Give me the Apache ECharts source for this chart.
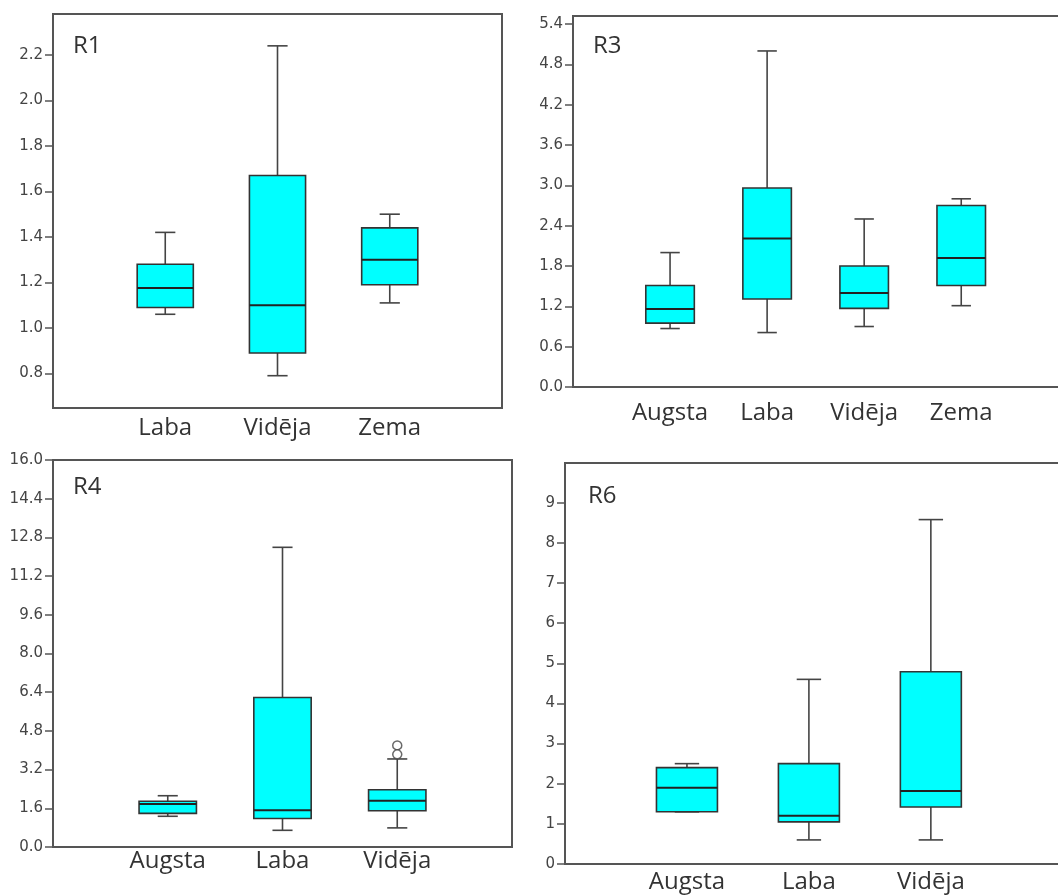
<!DOCTYPE html>
<html>
<head>
<meta charset="utf-8">
<script src="https://cdn.jsdelivr.net/npm/echarts@6/dist/echarts.min.js"></script>
<style>
html,body{margin:0;padding:0;background:#fff;}
#chart{width:1058px;height:895px;}
</style>
</head>
<body>
<div id="chart"></div>
<script>
// ---- Data ----
const r1Categories = ['Laba', 'Vidēja', 'Zema'];
const r1Low    = [1.06, 0.79, 1.11];
const r1Q1     = [1.09, 0.89, 1.19];
const r1Median = [1.175, 1.10, 1.30];
const r1Q3     = [1.28, 1.67, 1.44];
const r1High   = [1.42, 2.24, 1.50];
const r1Ticks  = [0.8, 1.0, 1.2, 1.4, 1.6, 1.8, 2.0, 2.2];

const r3Categories = ['Augsta', 'Laba', 'Vidēja', 'Zema'];
const r3Low    = [0.87, 0.81, 0.90, 1.21];
const r3Q1     = [0.95, 1.31, 1.17, 1.51];
const r3Median = [1.16, 2.21, 1.40, 1.92];
const r3Q3     = [1.51, 2.96, 1.80, 2.70];
const r3High   = [2.00, 5.00, 2.50, 2.80];
const r3Ticks  = [0.0, 0.6, 1.2, 1.8, 2.4, 3.0, 3.6, 4.2, 4.8, 5.4];

const r4Categories = ['Augsta', 'Laba', 'Vidēja'];
const r4Low    = [1.27, 0.69, 0.79];
const r4Q1     = [1.39, 1.18, 1.50];
const r4Median = [1.78, 1.52, 1.91];
const r4Q3     = [1.89, 6.18, 2.37];
const r4High   = [2.12, 12.39, 3.64];
const r4OutlierCategory = ['Vidēja', 'Vidēja'];
const r4OutlierValues   = [4.20, 3.83];
const r4Ticks  = [0.0, 1.6, 3.2, 4.8, 6.4, 8.0, 9.6, 11.2, 12.8, 14.4, 16.0];

const r6Categories = ['Augsta', 'Laba', 'Vidēja'];
const r6Low    = [1.30, 0.60, 0.60];
const r6Q1     = [1.30, 1.05, 1.42];
const r6Median = [1.90, 1.20, 1.82];
const r6Q3     = [2.40, 2.50, 4.79];
const r6High   = [2.50, 4.60, 8.58];
const r6Ticks  = [0, 1, 2, 3, 4, 5, 6, 7, 8, 9];

// ---- Build ----
const FRAME = '#555555';
const INK = '#333333';
const FILL = '#00FFFF';

const panels = [
  {name:'R1', cats:r1Categories, low:r1Low, q1:r1Q1, med:r1Median, q3:r1Q3, high:r1High, ticks:r1Ticks, dec:1,
   grid:{left:53, top:14, width:449, height:394}, ymin:0.648, ymax:2.38, xmax:4, catMargin:8, capFrac:0.18,
   title:[73, 45]},
  {name:'R3', cats:r3Categories, low:r3Low, q1:r3Q1, med:r3Median, q3:r3Q3, high:r3High, ticks:r3Ticks, dec:1,
   grid:{left:573, top:16, width:495, height:371}, ymin:0, ymax:5.52, xmax:5.1, catMargin:14, capFrac:0.2,
   title:[593, 45]},
  {name:'R4', cats:r4Categories, low:r4Low, q1:r4Q1, med:r4Median, q3:r4Q3, high:r4High, ticks:r4Ticks, dec:1,
   grid:{left:53, top:460, width:459, height:387}, ymin:0, ymax:16, xmax:4, catMargin:2, capFrac:0.175,
   title:[73, 486], outCats:r4OutlierCategory, outVals:r4OutlierValues},
  {name:'R6', cats:r6Categories, low:r6Low, q1:r6Q1, med:r6Median, q3:r6Q3, high:r6High, ticks:r6Ticks, dec:0,
   grid:{left:565, top:463, width:500, height:401}, ymin:0, ymax:9.99, xmax:4.1, catMargin:6, capFrac:0.2,
   title:[588, 495]}
];

const grids = [], xAxes = [], yAxes = [], series = [], graphics = [];

panels.forEach((p, i) => {
  grids.push(Object.assign({show:true, borderColor:FRAME, borderWidth:2, backgroundColor:'transparent',
    containLabel:false, outerBoundsMode:'none'}, p.grid));
  const xVals = p.cats.map((c, k) => k + 1);
  xAxes.push({
    type:'value', gridIndex:i, min:0, max:p.xmax,
    axisLine:{show:true, lineStyle:{color:FRAME, width:2}},
    axisTick:{show:false},
    splitLine:{show:false},
    axisLabel:{
      customValues:xVals, margin:p.catMargin,
      fontFamily:'Open Sans', fontSize:24, color:'#333',
      formatter:(v) => p.cats[Math.round(v) - 1] || ''
    }
  });
  yAxes.push({
    type:'value', gridIndex:i, min:p.ymin, max:p.ymax,
    axisLine:{show:true, lineStyle:{color:FRAME, width:2}},
    axisTick:{show:true, inside:false, length:8, customValues:p.ticks, lineStyle:{color:FRAME, width:1.5}},
    splitLine:{show:false},
    axisLabel:{
      customValues:p.ticks, margin:10,
      fontFamily:'DejaVu Sans', fontSize:15, color:'#444',
      formatter:(v) => Number(v).toFixed(p.dec)
    }
  });
  const rows = p.cats.map((c, k) => [k + 1, p.low[k], p.q1[k], p.med[k], p.q3[k], p.high[k]]);
  const capFrac = p.capFrac;
  series.push({
    type:'custom', xAxisIndex:i, yAxisIndex:i,
    data:rows,
    encode:{x:0, y:[1,2,3,4,5]},
    renderItem:(params, api) => {
      const x = api.value(0);
      const lo = api.coord([x, api.value(1)]);
      const q1 = api.coord([x, api.value(2)]);
      const md = api.coord([x, api.value(3)]);
      const q3 = api.coord([x, api.value(4)]);
      const hi = api.coord([x, api.value(5)]);
      const unit = api.size([1, 0])[0];
      const hw = unit * 0.25;
      const cw = unit * capFrac / 2;
      const cx = lo[0];
      const ls = {stroke:'#444', lineWidth:1.6};
      return {type:'group', children:[
        {type:'line', shape:{x1:cx, y1:hi[1], x2:cx, y2:q3[1]}, style:ls},
        {type:'line', shape:{x1:cx, y1:q1[1], x2:cx, y2:lo[1]}, style:ls},
        {type:'line', shape:{x1:cx-cw, y1:hi[1], x2:cx+cw, y2:hi[1]}, style:ls},
        {type:'line', shape:{x1:cx-cw, y1:lo[1], x2:cx+cw, y2:lo[1]}, style:ls},
        {type:'rect', shape:{x:cx-hw, y:q3[1], width:hw*2, height:q1[1]-q3[1]},
          style:{fill:FILL, stroke:INK, lineWidth:1.6}},
        {type:'line', shape:{x1:cx-hw, y1:md[1], x2:cx+hw, y2:md[1]}, style:{stroke:'#222', lineWidth:2}}
      ]};
    }
  });
  if (p.outVals) {
    series.push({
      type:'scatter', xAxisIndex:i, yAxisIndex:i,
      symbol:'circle', symbolSize:9,
      itemStyle:{color:'#fff', borderColor:'#444', borderWidth:1.5},
      data:p.outVals.map((v, k) => [p.cats.indexOf(p.outCats[k]) + 1, v]),
      z:5
    });
  }
  graphics.push({type:'text', x:p.title[0], y:p.title[1] + 1,
    style:{text:p.name, fontFamily:'Open Sans', fontSize:24, fill:'#333', verticalAlign:'middle'}});
});

const chart = echarts.init(document.getElementById('chart'), null, {renderer:'canvas'});
chart.setOption({
  animation:false,
  backgroundColor:'#fff',
  grid:grids, xAxis:xAxes, yAxis:yAxes, series:series, graphic:graphics
});
</script>
</body>
</html>
